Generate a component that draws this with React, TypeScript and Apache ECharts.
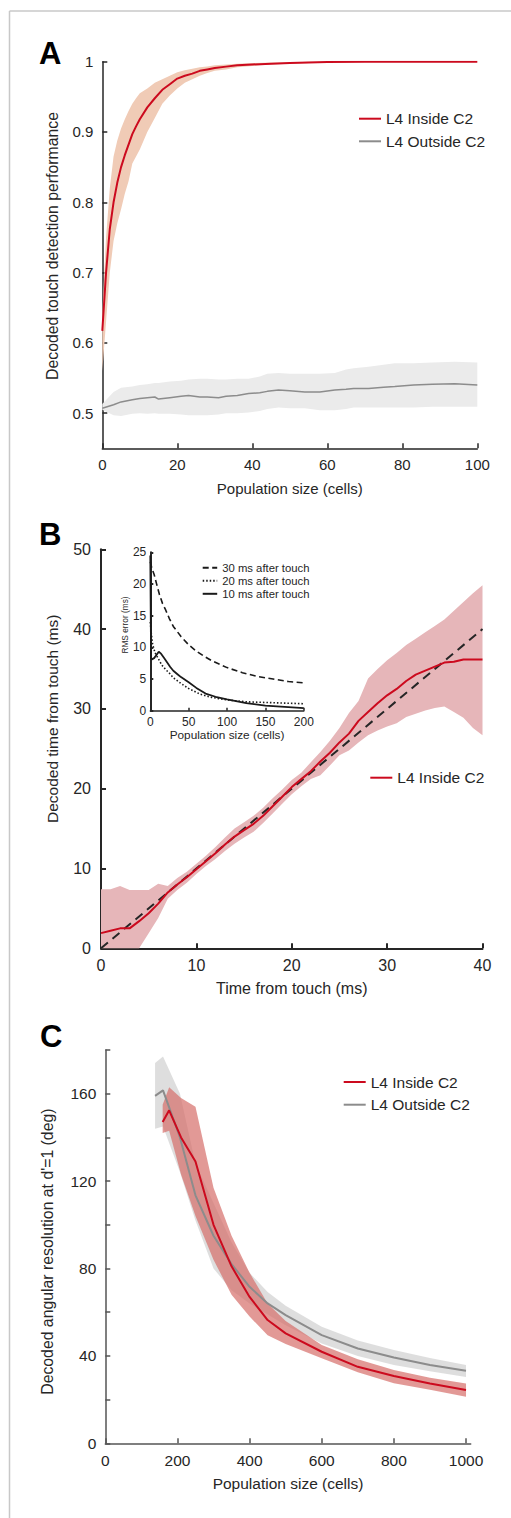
import React, { useEffect, useRef } from "react";
import * as echarts from "echarts";

// ---------- Panel A ----------
const aRedX = [0, 1, 2, 3, 4, 5, 6, 7, 8, 9, 10, 12, 14, 16, 18, 20, 22, 24, 26, 28, 30, 33, 36, 40, 45, 50, 55, 60, 70, 80, 90, 100];
const aRedY = [0.617, 0.7, 0.762, 0.8, 0.828, 0.85, 0.867, 0.882, 0.897, 0.908, 0.918, 0.935, 0.948, 0.96, 0.968, 0.976, 0.98, 0.983, 0.987, 0.989, 0.991, 0.993, 0.995, 0.996, 0.997, 0.998, 0.999, 0.9995, 1, 1, 1, 1];
const aRedHi = [0.64, 0.75, 0.82, 0.865, 0.888, 0.905, 0.918, 0.93, 0.94, 0.948, 0.955, 0.962, 0.97, 0.975, 0.98, 0.985, 0.988, 0.99, 0.992, 0.993, 0.995, 0.996, 0.997, 0.998, 0.999, 0.999, 1, 1, 1, 1, 1, 1];
const aRedLo = [0.56, 0.63, 0.7, 0.745, 0.77, 0.79, 0.812, 0.83, 0.855, 0.865, 0.875, 0.9, 0.92, 0.94, 0.952, 0.962, 0.97, 0.975, 0.98, 0.984, 0.987, 0.989, 0.992, 0.994, 0.996, 0.997, 0.998, 0.999, 0.9995, 0.9995, 0.9995, 0.9995];

const aGrayX = [0, 3, 5, 8, 10, 12, 14, 15, 18, 21, 23, 26, 28, 31, 33, 36, 39, 42, 44, 47, 50, 54, 58, 62, 65, 67, 71, 75, 78, 83, 88, 94, 100];
const aGrayY = [0.507, 0.512, 0.516, 0.519, 0.521, 0.522, 0.523, 0.52, 0.522, 0.524, 0.525, 0.523, 0.523, 0.522, 0.524, 0.525, 0.528, 0.529, 0.531, 0.533, 0.532, 0.53, 0.53, 0.533, 0.534, 0.535, 0.535, 0.537, 0.538, 0.54, 0.541, 0.542, 0.54];
const aGrayHi = [0.513, 0.53, 0.536, 0.538, 0.54, 0.541, 0.543, 0.543, 0.545, 0.546, 0.548, 0.549, 0.549, 0.548, 0.548, 0.549, 0.549, 0.552, 0.556, 0.557, 0.556, 0.556, 0.556, 0.557, 0.562, 0.564, 0.566, 0.569, 0.571, 0.571, 0.572, 0.573, 0.572];
const aGrayLo = [0.505, 0.497, 0.496, 0.499, 0.5, 0.499, 0.5, 0.499, 0.499, 0.498, 0.497, 0.497, 0.497, 0.498, 0.5, 0.5, 0.501, 0.503, 0.506, 0.508, 0.507, 0.507, 0.504, 0.504, 0.506, 0.508, 0.508, 0.508, 0.508, 0.508, 0.509, 0.509, 0.509];
const aYLabels = [0.5, 0.6, 0.7, 0.8, 0.9, 1];

// ---------- Panel B ----------
const bT = [0, 1, 2, 3, 4, 5, 6, 7, 8, 9, 10, 11, 12, 13, 14, 15, 16, 17, 18, 19, 20, 21, 22, 23, 24, 25, 26, 27, 28, 29, 30, 31, 32, 33, 34, 35, 36, 37, 38, 39, 40];
const bMean = [1.9, 2.2, 2.5, 2.5, 3.4, 4.4, 5.6, 7.0, 8.0, 8.9, 9.9, 10.9, 11.9, 13.0, 14.0, 14.8, 15.6, 16.6, 17.8, 19.0, 20.2, 21.2, 22.2, 23.4, 24.5, 25.8, 26.9, 28.5, 29.6, 30.7, 31.7, 32.5, 33.5, 34.3, 34.8, 35.3, 35.8, 35.9, 36.2, 36.2, 36.2];
const bHi = [7.4, 7.4, 7.8, 7.3, 7.3, 7.3, 8.1, 7.8, 8.8, 9.6, 10.6, 11.6, 12.7, 13.9, 15.0, 15.8, 16.6, 17.6, 18.8, 19.9, 21.1, 22.0, 23.3, 24.6, 26.0, 27.6, 29.5, 31.0, 33.8, 35.0, 36.1, 37.0, 38.0, 38.8, 39.6, 40.4, 41.2, 42.3, 43.4, 44.5, 45.5];
const bLo = [0, 0, 0, 0, 0, 1.9, 3.8, 6.2, 7.3, 8.2, 9.3, 10.3, 11.2, 12.2, 13.1, 13.9, 14.6, 15.7, 16.9, 18.1, 19.3, 20.3, 21.2, 21.7, 22.9, 24.2, 24.8, 25.8, 26.7, 27.3, 27.8, 28.2, 29.0, 29.4, 29.8, 30.1, 30.3, 29.6, 28.9, 27.6, 26.7];
const bDiagX = [0, 40];
const bDiagY = [0, 40];

// ---------- Panel B inset ----------
const in30X = [0, 2, 5, 8, 12, 16, 20, 25, 30, 40, 50, 60, 70, 80, 100, 120, 140, 160, 180, 200];
const in30Y = [23.5, 22.5, 21.5, 20.1, 18.3, 16.9, 15.9, 14.5, 13.3, 11.7, 10.4, 9.4, 8.6, 7.9, 6.8, 6.0, 5.4, 5.0, 4.6, 4.4];
const in20X = [0, 1, 3, 6, 10, 15, 20, 25, 30, 40, 50, 65, 80, 100, 125, 150, 175, 200];
const in20Y = [14, 12.5, 10.5, 9.2, 8.3, 7.2, 6.5, 5.9, 5.2, 4.3, 3.5, 2.6, 2.1, 1.7, 1.4, 1.3, 1.2, 1.1];
const in10X = [0, 1, 2, 5, 8, 11, 14, 18, 22, 26, 30, 35, 40, 50, 60, 72, 85, 100, 125, 150, 175, 200];
const in10Y = [24.5, 8.2, 8.1, 8.3, 8.8, 9.3, 9.0, 8.3, 7.6, 6.9, 6.3, 5.8, 5.3, 4.5, 3.6, 2.7, 2.2, 1.8, 1.2, 0.8, 0.6, 0.4];

// ---------- Panel C ----------
const cRedX = [159, 177, 210, 250, 300, 350, 400, 450, 500, 600, 700, 800, 900, 1000];
const cRedY = [147, 152.4, 140, 129, 100, 81, 67, 56.4, 50.3, 41.9, 35, 30.8, 27.4, 24.4];
const cRedLo = [142, 143, 123, 104, 84, 68, 58, 49.5, 45.5, 38.9, 32.5, 27.5, 24.5, 21.3];
const cRedHi = [155, 163, 158, 154, 117, 95, 78, 64, 56, 45, 38.5, 33.5, 30, 27.4];
const cGrayX = [138, 160, 207, 250, 300, 350, 400, 450, 500, 600, 700, 800, 900, 1000];
const cGrayY = [159, 161.5, 140, 113.5, 95, 82, 71.6, 64, 58.7, 49.5, 43.4, 39.3, 35.8, 33.2];
const cGrayLo = [144, 145, 124, 102, 80, 70, 64, 59, 54, 45.7, 40, 35.8, 33, 30.4];
const cGrayHi = [174, 177, 160, 128, 110, 92, 78, 69.3, 63, 53.3, 47, 42.7, 39, 35.8];
const cXLabels = [0, 200, 400, 600, 800, 1000];
const cYLabels = [0, 40, 80, 120, 160];

const FONT = '"Liberation Sans", Arial, Helvetica, sans-serif';
const RED = "#cc0a1e";
const GRAY = "#8c8c8c";

const zip = (xs: number[], ys: number[]) => xs.map((x, i) => [x, ys[i]]);

function band(xi: number, xs: number[], lo: number[], hi: number[], fill: string, z = 1) {
  const pts = xs.map((x, i) => [x, hi[i]]).concat(xs.map((x, i) => [x, lo[i]]).reverse());
  return {
    type: "custom",
    xAxisIndex: xi,
    yAxisIndex: xi,
    silent: true,
    z,
    data: [[xs[0], lo[0]]],
    renderItem: (_p: any, api: any) => ({
      type: "polygon",
      shape: { points: pts.map((p) => api.coord(p)) },
      style: { fill },
    }),
  };
}

function line(xi: number, name: string | undefined, xs: number[], ys: number[], color: string, width: number, type: any = "solid", z = 3) {
  return {
    type: "line",
    name,
    xAxisIndex: xi,
    yAxisIndex: xi,
    data: zip(xs, ys),
    symbol: "none",
    showSymbol: false,
    silent: true,
    z,
    lineStyle: { color, width, type },
    itemStyle: { color },
  };
}

function axis(gi: number, o: any) {
  const color = o.color || "#262626";
  return {
    gridIndex: gi,
    type: "value",
    min: o.min,
    max: o.max,
    interval: o.interval,
    splitLine: { show: false },
    axisLine: { show: true, onZero: false, lineStyle: { color, width: o.lw || 1.5 } },
    axisTick: {
      show: true,
      inside: true,
      length: o.tl || 5,
      lineStyle: { color, width: o.lw || 1.5 },
      ...(o.tickValues ? { customValues: o.tickValues } : {}),
    },
    axisLabel: {
      color: o.labelColor || "#262626",
      fontSize: o.fs,
      fontFamily: FONT,
      margin: o.margin,
      formatter: o.formatter || ((v: number) => String(v)),
      ...(o.labelValues ? { customValues: o.labelValues } : {}),
    },
    name: o.name,
    nameLocation: "middle",
    nameGap: o.nameGap,
    nameTextStyle: { color: "#262626", fontSize: o.nfs || o.fs, fontFamily: FONT, padding: o.npad || 0 },
  };
}

function legend(left: number, top: number, names: string[], iw: number, ih: number, gap: number, fs: number) {
  return {
    orient: "vertical",
    left,
    top,
    itemWidth: iw,
    itemHeight: ih,
    itemGap: gap,
    data: names,
    itemStyle: { opacity: 0 },
    textStyle: { fontSize: fs, fontFamily: FONT, color: "#262626", lineHeight: ih },
    selectedMode: false,
  };
}

export default function App() {
  const ref = useRef<HTMLDivElement>(null);
  useEffect(() => {
    document.body.style.margin = "0";
    const chart = echarts.init(ref.current!, null, { renderer: "svg" });
    const option: any = {
      animation: false,
      backgroundColor: "#ffffff",
      grid: [
        { left: 102.3, top: 61.7, width: 375, height: 386.6 },
        { left: 101, top: 549.3, width: 381.5, height: 399 },
        { left: 150.3, top: 552.3, width: 153.5, height: 158.4 },
        { left: 105.3, top: 1050, width: 365.4, height: 393.3 },
      ],
      xAxis: [
        axis(0, { min: 0, max: 100, interval: 20, fs: 15, margin: 9, name: "Population size (cells)", nameGap: 33 }),
        axis(1, { min: 0, max: 40, interval: 10, fs: 16, margin: 9, lw: 2, name: "Time from touch (ms)", nameGap: 32 }),
        axis(2, { min: 0, max: 200, interval: 50, fs: 12, margin: 5, tl: 3, name: "Population size (cells)", nameGap: 18, nfs: 11.8 }),
        axis(3, { min: 0, max: 1013, fs: 15.5, margin: 9, color: "#555555", tickValues: cXLabels, labelValues: cXLabels, name: "Population size (cells)", nameGap: 32 }),
      ],
      yAxis: [
        axis(0, {
          min: 0.45, max: 1, fs: 15, margin: 9, tickValues: aYLabels, labelValues: aYLabels,
          formatter: (v: number) => String(Math.round(v * 10) / 10),
          name: "Decoded touch detection performance", nameGap: 42, nfs: 15.8, npad: [0, 0, 0, 18],
        }),
        axis(1, { min: 0, max: 50, interval: 10, fs: 16, margin: 10, lw: 2, name: "Decoded time from touch (ms)", nameGap: 41, nfs: 15.5, npad: [0, 0, 0, 60] }),
        axis(2, { min: 0, max: 25, interval: 5, fs: 12, margin: 4, tl: 3, lw: 2, name: "RMS error (ms)", nameGap: 20, nfs: 8.3, npad: [0, 0, 0, 13] }),
        axis(3, { min: 0, max: 180, interval: 20, fs: 15.5, margin: 9, color: "#555555", labelValues: cYLabels, name: "Decoded angular resolution at d'=1 (deg)", nameGap: 50, nfs: 15.8, npad: [0, 10, 0, 0] }),
      ],
      legend: [
        legend(353, 105.7, ["L4 Inside C2", "L4 Outside C2"], 22, 14, 6.6, 15.5),
        legend(364.3, 764.7, ["L4 Inside C2"], 22, 14, 6.6, 15.5),
        legend(196.7, 557.3, ["30 ms after touch", "20 ms after touch", "10 ms after touch"], 14.5, 10, 2, 11.3),
        legend(337.7, 1069, ["L4 Inside C2", "L4 Outside C2"], 22, 14, 6.7, 15.5),
      ],
      graphic: [
        { type: "line", shape: { x1: 9.5, y1: 11, x2: 511, y2: 11 }, style: { stroke: "#c8c8c8", lineWidth: 1.5 } },
        { type: "line", shape: { x1: 9.5, y1: 11, x2: 9.5, y2: 1518 }, style: { stroke: "#c8c8c8", lineWidth: 1.5 } },
        { type: "text", x: 39, y: 53, style: { text: "A", font: `bold 31px ${FONT}`, fill: "#000", verticalAlign: "middle" } },
        { type: "text", x: 39, y: 534, style: { text: "B", font: `bold 31px ${FONT}`, fill: "#000", verticalAlign: "middle" } },
        { type: "text", x: 40, y: 1036, style: { text: "C", font: `bold 31px ${FONT}`, fill: "#000", verticalAlign: "middle" } },
      ],
      series: [
        // A
        band(0, aRedX, aRedLo, aRedHi, "#f0cbb6"),
        band(0, aGrayX, aGrayLo, aGrayHi, "#ebebeb"),
        line(0, "L4 Outside C2", aGrayX, aGrayY, GRAY, 1.5),
        line(0, "L4 Inside C2", aRedX, aRedY, RED, 2),
        // B
        band(1, bT, bLo, bHi, "#e6b6b9"),
        line(1, undefined, bDiagX, bDiagY, "#262626", 2, [9, 6], 3),
        line(1, "L4 Inside C2", bT, bMean, RED, 2, "solid", 4),
        // inset
        line(2, "30 ms after touch", in30X, in30Y, "#1a1a1a", 1.6, [6, 3.5]),
        line(2, "20 ms after touch", in20X, in20Y, "#1a1a1a", 1.6, [1.5, 2]),
        line(2, "10 ms after touch", in10X, in10Y, "#1a1a1a", 1.8),
        // C
        band(3, cGrayX, cGrayLo, cGrayHi, "rgba(205,205,205,0.65)", 1),
        band(3, cRedX, cRedLo, cRedHi, "rgba(214,110,105,0.7)", 2),
        line(3, "L4 Outside C2", cGrayX, cGrayY, GRAY, 2),
        line(3, "L4 Inside C2", cRedX, cRedY, RED, 2, "solid", 4),
      ],
    };
    chart.setOption(option);
    return () => chart.dispose();
  }, []);
  return <div ref={ref} style={{ width: 511, height: 1518 }} />;
}
